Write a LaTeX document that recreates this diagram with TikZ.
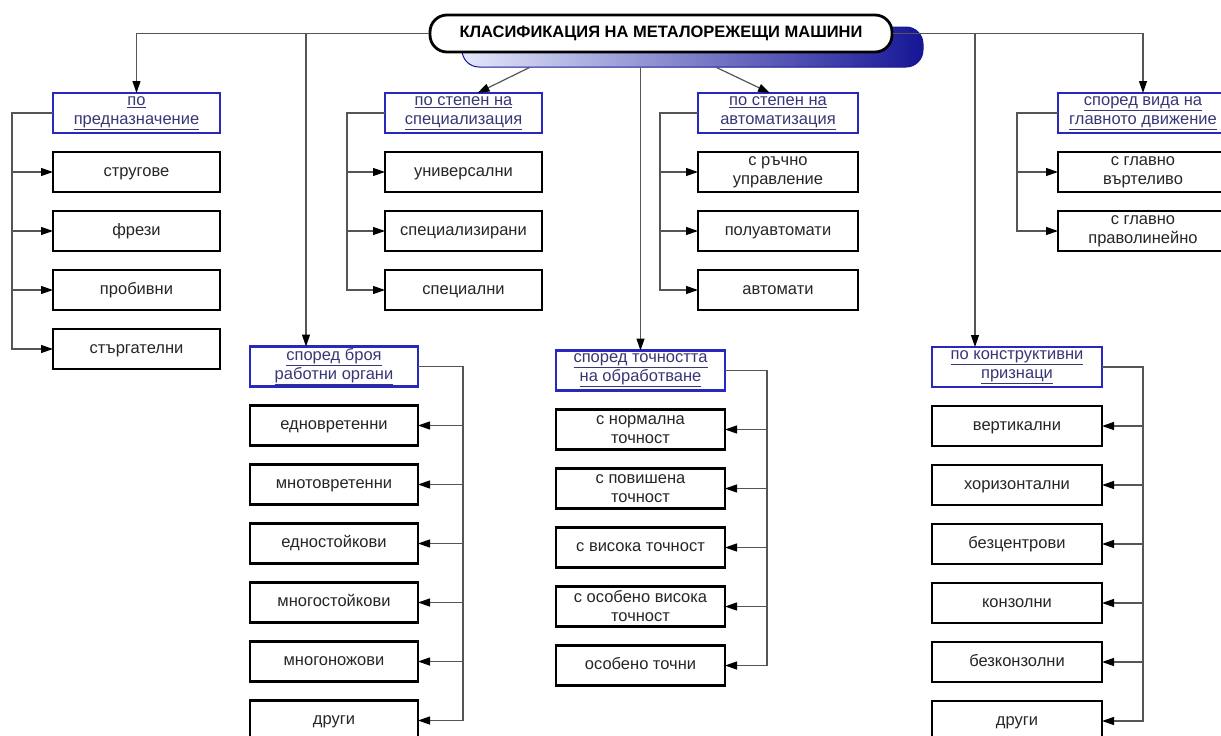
\documentclass[tikz,border=0pt]{standalone}
\usepackage{fontspec}
\setmainfont{Liberation Sans}
\usetikzlibrary{arrows.meta,positioning,calc}
\definecolor{catline}{RGB}{40,40,190}
\definecolor{cattext}{RGB}{55,55,120}
\definecolor{conn}{RGB}{85,85,85}
\definecolor{shl}{RGB}{228,232,250}
\definecolor{shr}{RGB}{22,22,150}
\newcommand{\lnk}[1]{\underline{#1}}

\begin{document}
\begin{tikzpicture}[x=1pt,y=-1pt,node distance=19pt,
  font=\fontsize{16.5}{19}\selectfont,
  cat/.style={draw=catline,line width=2.8pt,fill=white,text=cattext,align=center,
              minimum height=40pt,inner sep=0pt,outer sep=0pt},
  item/.style={draw=black,line width=2.8pt,fill=white,text=black!85,align=center,
               minimum height=40pt,inner sep=0pt,outer sep=0pt,text height=12pt,text depth=4pt},
  two/.style={text height=,text depth=},
  a/.style={conn,line width=1.2pt,-{Triangle[length=12pt,width=8pt,color=black]}}]
 \useasboundingbox (0,0) rectangle (1221,736);
 \clip (0,0) rectangle (1221,736);
 % title with shaded shadow
 \node[draw=shr,line width=1pt,rounded corners=17pt,left color=shl,right color=shr,
       minimum width=461pt,minimum height=40pt] (shad) at (692.5,47) {};
 \node[draw=black,line width=2.8pt,fill=white,rounded corners=17pt,
       minimum width=462pt,minimum height=37pt,inner sep=0pt,font=\fontsize{16.5}{19}\selectfont\bfseries]
   (title) at (661,33.5) {КЛАСИФИКАЦИЯ НА МЕТАЛОРЕЖЕЩИ МАШИНИ};
 % top row
 \node[cat,minimum width=167pt] (nazn) at (136.5,113) {\lnk{по}\\ \lnk{предназначение}};
 \node[item,minimum width=167pt,below=of nazn] (n1) {стругове};
 \node[item,minimum width=167pt,below=of n1] (n2) {фрези};
 \node[item,minimum width=167pt,below=of n2] (n3) {пробивни};
 \node[item,minimum width=167pt,below=of n3] (n4) {стъргателни};
 \node[cat,minimum width=157pt] (spec) at (463.5,113) {\lnk{по степен на}\\ \lnk{специализация}};
 \node[item,minimum width=157pt,below=of spec] (s1) {универсални};
 \node[item,minimum width=157pt,below=of s1] (s2) {специализирани};
 \node[item,minimum width=157pt,below=of s2] (s3) {специални};
 \node[cat,minimum width=160pt] (avto) at (778,113) {\lnk{по степен на}\\ \lnk{автоматизация}};
 \node[item,two,minimum width=160pt,below=of avto] (a1) {с ръчно\\ управление};
 \node[item,minimum width=160pt,below=of a1] (a2) {полуавтомати};
 \node[item,minimum width=160pt,below=of a2] (a3) {автомати};
 \node[cat,minimum width=170pt] (dvij) at (1143,113) {\lnk{според вида на}\\ \lnk{главното движение}};
 \node[item,two,minimum width=170pt,below=of dvij] (d1) {с главно\\ въртеливо};
 \node[item,two,minimum width=170pt,below=of d1] (d2) {с главно\\ праволинейно};
 % bottom row
 \node[cat,minimum width=168pt] (organi) at (334,366.5) {\lnk{според броя}\\ \lnk{работни органи}};
 \node[item,minimum width=168pt,below=of organi] (o1) {едновретенни};
 \node[item,minimum width=168pt,below=of o1] (o2) {мнотовретенни};
 \node[item,minimum width=168pt,below=of o2] (o3) {едностойкови};
 \node[item,minimum width=168pt,below=of o3] (o4) {многостойкови};
 \node[item,minimum width=168pt,below=of o4] (o5) {многоножови};
 \node[item,minimum width=168pt,below=of o5] (o6) {други};
 \node[cat,minimum width=169pt] (tochn) at (640.5,370.5) {\lnk{според точността}\\ \lnk{на обработване}};
 \node[item,two,minimum width=169pt,below=of tochn] (t1) {с нормална\\ точност};
 \node[item,two,minimum width=169pt,below=of t1] (t2) {с повишена\\ точност};
 \node[item,minimum width=169pt,below=of t2] (t3) {с висока точност};
 \node[item,two,minimum width=169pt,below=of t3] (t4) {с особено висока\\ точност};
 \node[item,minimum width=169pt,below=of t4] (t5) {особено точни};
 \node[cat,minimum width=170pt] (konstr) at (1017,367) {\lnk{по конструктивни}\\ \lnk{признаци}};
 \node[item,minimum width=170pt,below=of konstr] (k1) {вертикални};
 \node[item,minimum width=170pt,below=of k1] (k2) {хоризонтални};
 \node[item,minimum width=170pt,below=of k2] (k3) {безцентрови};
 \node[item,minimum width=170pt,below=of k3] (k4) {конзолни};
 \node[item,minimum width=170pt,below=of k4] (k5) {безконзолни};
 \node[item,minimum width=170pt,below=of k5] (k6) {други};
 % from the title
 \coordinate (jo) at ($(organi.north west)+(56pt,0)$);
 \coordinate (jk) at ($(konstr.north west)+(43pt,0)$);
 \draw[a] (title.west) -| (nazn.north); \draw[a] (jo |- title.west) -- (jo);
 \draw[a] (title.east) -| (dvij.north); \draw[a] (jk |- title.east) -- (jk);
 \draw[a] (shad.south -| tochn.north) -- (tochn.north);
 \draw[a] ($(shad.south west)+(68pt,0)$) -- ($(spec.north)+(14pt,0)$);
 \draw[a] ($(shad.south west)+(255pt,0)$) -- ($(avto.north)+(-8pt,0)$);
 % brackets
 \draw[a] (nazn.west) -- ++(-41pt,0) coordinate (bn) |- (n4.west);
 \draw[a] (bn |- n1.west) -- (n1.west); \draw[a] (bn |- n2.west) -- (n2.west);
 \draw[a] (bn |- n3.west) -- (n3.west);
 \draw[a] (spec.west) -- ++(-38pt,0) coordinate (bs) |- (s3.west);
 \draw[a] (bs |- s1.west) -- (s1.west); \draw[a] (bs |- s2.west) -- (s2.west);
 \draw[a] (avto.west) -- ++(-38pt,0) coordinate (ba) |- (a3.west);
 \draw[a] (ba |- a1.west) -- (a1.west); \draw[a] (ba |- a2.west) -- (a2.west);
 \draw[a] (dvij.west) -- ++(-41pt,0) coordinate (bd) |- (d2.west);
 \draw[a] (bd |- d1.west) -- (d1.west);
 \draw[a] (organi.east) -- ++(45pt,0) coordinate (bo) |- (o6.east);
 \draw[a] (bo |- o1.east) -- (o1.east); \draw[a] (bo |- o2.east) -- (o2.east);
 \draw[a] (bo |- o3.east) -- (o3.east); \draw[a] (bo |- o4.east) -- (o4.east);
 \draw[a] (bo |- o5.east) -- (o5.east);
 \draw[a] (tochn.east) -- ++(42pt,0) coordinate (bt) |- (t5.east);
 \draw[a] (bt |- t1.east) -- (t1.east); \draw[a] (bt |- t2.east) -- (t2.east);
 \draw[a] (bt |- t3.east) -- (t3.east); \draw[a] (bt |- t4.east) -- (t4.east);
 \draw[a] (konstr.east) -- ++(41pt,0) coordinate (bk) |- (k6.east);
 \draw[a] (bk |- k1.east) -- (k1.east); \draw[a] (bk |- k2.east) -- (k2.east);
 \draw[a] (bk |- k3.east) -- (k3.east); \draw[a] (bk |- k4.east) -- (k4.east);
 \draw[a] (bk |- k5.east) -- (k5.east);
\end{tikzpicture}
\end{document}
